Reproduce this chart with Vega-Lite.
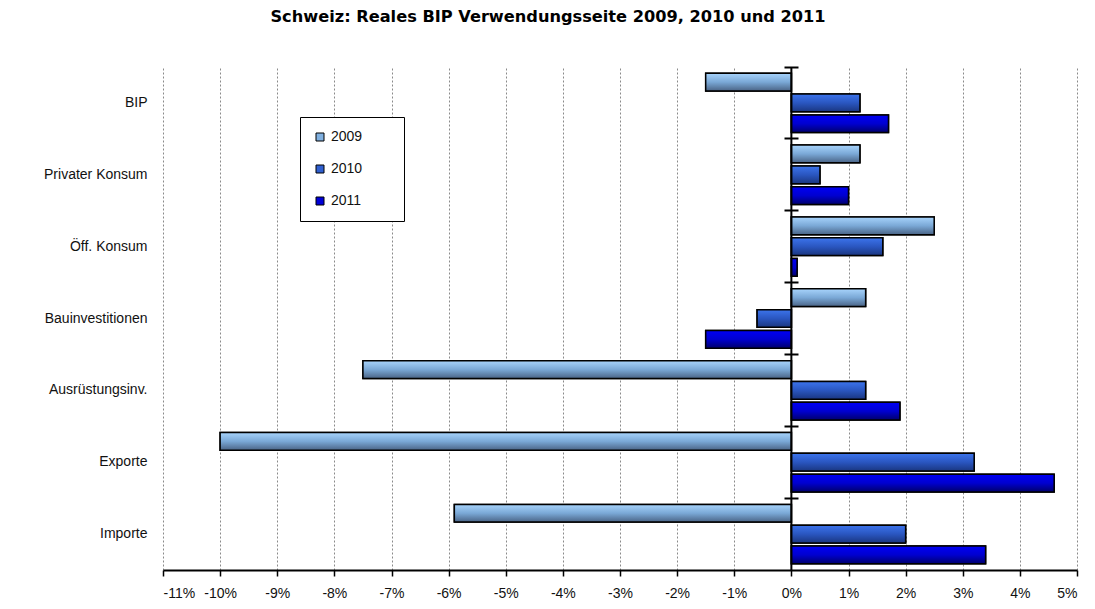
{
  "$schema": "https://vega.github.io/schema/vega-lite/v6.json",
  "width": 914,
  "height": 503,
  "autosize": {"type": "none"},
  "padding": {"left": 163, "top": 67, "right": 18, "bottom": 39},
  "background": "white",
  "title": {
    "text": "Schweiz: Reales BIP Verwendungsseite 2009, 2010 und 2011",
    "font": "DejaVu Sans",
    "fontSize": 16.2,
    "fontWeight": "bold",
    "color": "black",
    "anchor": "middle",
    "frame": "group",
    "offset": 41,
    "dx": -72
  },
  "config": {
    "view": {"stroke": null},
    "font": "Liberation Sans"
  },
  "data": {
    "values": [
      {"cat": "BIP", "year": "2009", "v": -1.5},
      {"cat": "BIP", "year": "2010", "v": 1.2},
      {"cat": "BIP", "year": "2011", "v": 1.7},
      {"cat": "Privater Konsum", "year": "2009", "v": 1.2},
      {"cat": "Privater Konsum", "year": "2010", "v": 0.5},
      {"cat": "Privater Konsum", "year": "2011", "v": 1.0},
      {"cat": "Öff. Konsum", "year": "2009", "v": 2.5},
      {"cat": "Öff. Konsum", "year": "2010", "v": 1.6},
      {"cat": "Öff. Konsum", "year": "2011", "v": 0.1},
      {"cat": "Bauinvestitionen", "year": "2009", "v": 1.3},
      {"cat": "Bauinvestitionen", "year": "2010", "v": -0.6},
      {"cat": "Bauinvestitionen", "year": "2011", "v": -1.5},
      {"cat": "Ausrüstungsinv.", "year": "2009", "v": -7.5},
      {"cat": "Ausrüstungsinv.", "year": "2010", "v": 1.3},
      {"cat": "Ausrüstungsinv.", "year": "2011", "v": 1.9},
      {"cat": "Exporte", "year": "2009", "v": -10.0},
      {"cat": "Exporte", "year": "2010", "v": 3.2},
      {"cat": "Exporte", "year": "2011", "v": 4.6},
      {"cat": "Importe", "year": "2009", "v": -5.9},
      {"cat": "Importe", "year": "2010", "v": 2.0},
      {"cat": "Importe", "year": "2011", "v": 3.4}
    ]
  },
  "resolve": {"axis": {"y": "independent"}},
  "layer": [
    {
      "mark": {"type": "bar", "stroke": "black", "strokeWidth": 1.5},
      "encoding": {
        "y": {
          "field": "cat", "type": "nominal", "sort": null,
          "scale": {"paddingInner": 0, "paddingOuter": 0},
          "axis": {
            "orient": "left", "title": null, "domain": false, "ticks": false, "grid": false,
            "labelFontSize": 14, "labelColor": "#111", "labelPadding": 16, "labelFont": "Liberation Sans"
          }
        },
        "yOffset": {
          "field": "year", "type": "nominal",
          "scale": {"domain": ["2009", "2010", "2011"], "paddingInner": 0.15, "paddingOuter": 0.3}
        },
        "x": {
          "field": "v", "type": "quantitative",
          "scale": {"domain": [-11, 5], "nice": false, "zero": false},
          "axis": {
            "title": null,
            "values": [-11, -10, -9, -8, -7, -6, -5, -4, -3, -2, -1, 0, 1, 2, 3, 4, 5],
            "labelExpr": "datum.value + '%'",
            "labelFontSize": 14, "labelColor": "#111", "labelPadding": 10, "labelFont": "Liberation Sans",
            "domainColor": "black", "domainWidth": 2,
            "tickColor": "black", "tickWidth": 1.5, "tickSize": 6,
            "grid": true, "gridColor": "#8a8a8a", "gridDash": [2, 2], "gridWidth": 1
          }
        },
        "color": {
          "field": "year", "type": "nominal",
          "scale": {"domain": ["2009", "2010", "2011"], "range": ["#80b0e0", "#2f5fcf", "#0000d8"]},
          "legend": {
            "title": null, "orient": "none", "legendX": 137, "legendY": 50,
            "padding": 13, "strokeColor": "black", "fillColor": "white",
            "symbolType": "square", "symbolSize": 64, "symbolStrokeColor": "black", "symbolStrokeWidth": 1,
            "labelFontSize": 14, "labelColor": "#111", "labelFont": "Liberation Sans", "labelOffset": 4,
            "rowPadding": 18,
            "labelExpr": "datum.label + '\u2003\u2003\u200b'"
          }
        }
      }
    },
    {
      "transform": [{"filter": "datum.year === '2009'"}],
      "mark": {"type": "bar", "stroke": "black", "strokeWidth": 1.5,
        "color": {"gradient": "linear", "x1": 0, "y1": 0, "x2": 0, "y2": 1,
          "stops": [{"offset": 0, "color": "#a8d4fc"}, {"offset": 0.5, "color": "#7aa8d6"}, {"offset": 1, "color": "#4a6486"}]}},
      "encoding": {
        "y": {"field": "cat", "type": "nominal", "sort": null,
          "axis": {
            "orient": "left", "offset": -635, "labels": false, "domain": false, "grid": false, "title": null,
            "ticks": true, "tickSize": 14, "tickWidth": 2, "tickColor": "black", "bandPosition": 0
          }},
        "yOffset": {"field": "year", "type": "nominal"},
        "x": {"field": "v", "type": "quantitative"}
      }
    },
    {
      "transform": [{"filter": "datum.year === '2010'"}],
      "mark": {"type": "bar", "stroke": "black", "strokeWidth": 1.5,
        "color": {"gradient": "linear", "x1": 0, "y1": 0, "x2": 0, "y2": 1,
          "stops": [{"offset": 0, "color": "#3c74ec"}, {"offset": 0.5, "color": "#2a56c0"}, {"offset": 1, "color": "#1a3680"}]}},
      "encoding": {
        "y": {"field": "cat", "type": "nominal", "sort": null, "axis": null},
        "yOffset": {"field": "year", "type": "nominal"},
        "x": {"field": "v", "type": "quantitative"}
      }
    },
    {
      "transform": [{"filter": "datum.year === '2011'"}],
      "mark": {"type": "bar", "stroke": "black", "strokeWidth": 1.5,
        "color": {"gradient": "linear", "x1": 0, "y1": 0, "x2": 0, "y2": 1,
          "stops": [{"offset": 0, "color": "#0000f4"}, {"offset": 0.5, "color": "#0000d0"}, {"offset": 1, "color": "#00006c"}]}},
      "encoding": {
        "y": {"field": "cat", "type": "nominal", "sort": null, "axis": null},
        "yOffset": {"field": "year", "type": "nominal"},
        "x": {"field": "v", "type": "quantitative"}
      }
    },
    {
      "data": {"values": [{}]},
      "mark": {"type": "rule", "color": "black", "strokeWidth": 2},
      "encoding": {"x": {"datum": 0}}
    }
  ]
}
